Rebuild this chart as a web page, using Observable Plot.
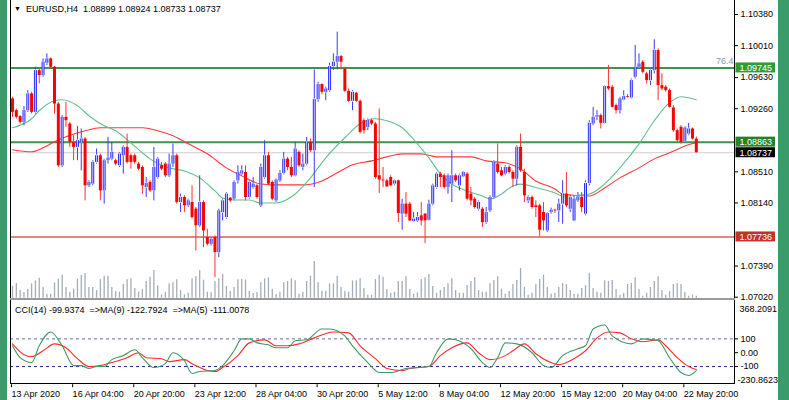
<!DOCTYPE html>
<html><head><meta charset="utf-8">
<script src="https://cdn.jsdelivr.net/npm/d3@7"></script>
<script src="https://cdn.jsdelivr.net/npm/@observablehq/plot@0.6"></script>
<style>
body{margin:0;background:#fff;}
#chart{position:relative;width:789px;height:400px;overflow:hidden;background:#fff;font-family:"Liberation Sans",Arial,sans-serif;}
#chart svg{position:absolute;left:0;overflow:visible;}
.strip{position:absolute;top:0;height:400px;background:#3b9b6b;}
.txt{position:absolute;font-size:9px;line-height:10px;white-space:pre;color:#000;}
.ln{position:absolute;background:#000;}
</style></head><body>
<div id="chart"></div>
<script>
// ---------- data ----------
const symbolText = "EURUSD,H4  1.08899 1.08924 1.08733 1.08737";
const cciText = "CCI(14) -99.9374  =>MA(9) -122.7924  =>MA(5) -111.0078";

const open = [
1.09376,1.09237,1.09166,1.09098,1.09237,1.09436,1.09217,1.09713,1.09654,1.09801,
1.09852,1.09753,1.09316,1.08582,1.09158,1.09078,1.08860,1.08800,1.08860,1.08900,
1.08344,1.08364,1.08622,1.08701,1.08284,1.08642,1.08661,1.08642,1.08582,1.08701,
1.08800,1.08701,1.08701,1.08602,1.08562,1.08324,1.08384,1.08284,1.08443,1.08582,
1.08602,1.08463,1.08602,1.08701,1.08145,1.08205,1.08106,1.08145,1.08066,1.07868,
1.08145,1.07729,1.07649,1.07729,1.07550,1.08026,1.07967,1.08197,1.08185,1.08403,
1.08483,1.08503,1.08205,1.08324,1.08344,1.08106,1.08443,1.08701,1.08384,1.08165,
1.08403,1.08491,1.08661,1.08562,1.08463,1.08741,1.08562,1.08602,1.08860,1.08761,
1.09368,1.09547,1.09455,1.09475,1.09761,1.09813,1.09880,1.09733,1.09467,1.09348,
1.09444,1.09348,1.09118,1.09039,1.09118,1.09078,1.08463,1.08412,1.08403,1.08443,
1.08364,1.08403,1.08007,1.08126,1.08126,1.07919,1.07927,1.07987,1.08007,1.07935,
1.08126,1.08324,1.08483,1.08463,1.08324,1.08364,1.08463,1.08344,1.08451,1.08483,
1.08245,1.08185,1.08066,1.08066,1.07907,1.08046,1.08205,1.08602,1.08522,1.08483,
1.08562,1.08503,1.08423,1.08800,1.08503,1.08165,1.08205,1.08106,1.08106,1.08026,
1.07808,1.08026,1.08054,1.08046,1.08126,1.08245,1.08066,1.07927,1.08165,1.08205,
1.08007,1.08372,1.09078,1.09158,1.09178,1.09086,1.09523,1.09515,1.09297,1.09237,
1.09364,1.09404,1.09388,1.09634,1.09753,1.09813,1.09674,1.09594,1.09713,1.09952,
1.09535,1.09515,1.09475,1.09269,1.08999,1.09039,1.08872,1.08959,1.09019,1.08899];
const high = [
1.09396,1.09257,1.09178,1.09285,1.09475,1.09455,1.09753,1.09733,1.09852,1.09912,
1.09864,1.09761,1.09336,1.09178,1.09336,1.09098,1.08939,1.09047,1.09019,1.08919,
1.08403,1.08642,1.08781,1.08721,1.08661,1.08919,1.08860,1.08661,1.08741,1.08820,
1.08959,1.08721,1.08721,1.08622,1.08582,1.08443,1.08403,1.08800,1.08681,1.08622,
1.08622,1.08721,1.08840,1.08721,1.08245,1.08225,1.08185,1.08344,1.08086,1.08463,
1.08165,1.07828,1.07729,1.07748,1.08066,1.08185,1.08264,1.08205,1.08403,1.08582,
1.08582,1.08582,1.08403,1.08443,1.08364,1.08602,1.08880,1.08741,1.08403,1.08423,
1.08522,1.08741,1.08681,1.08681,1.08860,1.08761,1.08721,1.08919,1.08900,1.09721,
1.09574,1.09555,1.09515,1.09801,1.09912,1.10170,1.09892,1.09753,1.09495,1.09475,
1.09455,1.09364,1.09138,1.09138,1.09138,1.09098,1.09257,1.08562,1.08423,1.08463,
1.08412,1.08412,1.08185,1.08264,1.08145,1.08026,1.08026,1.08145,1.08014,1.08173,
1.08364,1.08503,1.08503,1.08483,1.08483,1.08761,1.08483,1.08483,1.08515,1.08503,
1.08324,1.08205,1.08165,1.08086,1.08086,1.08225,1.08642,1.08840,1.08562,1.08582,
1.08582,1.08522,1.08820,1.08959,1.08542,1.08225,1.08225,1.08165,1.08126,1.08145,
1.08026,1.08078,1.08066,1.08185,1.08403,1.08503,1.08225,1.08225,1.08264,1.08264,
1.08403,1.09118,1.09277,1.09237,1.09197,1.09535,1.09773,1.09535,1.09316,1.09396,
1.09475,1.09428,1.09614,1.10011,1.09912,1.09833,1.09694,1.09733,1.10079,1.09972,
1.09674,1.09535,1.09495,1.09297,1.09019,1.09058,1.09047,1.09086,1.09031,1.08924];
const low = [
1.09158,1.09138,1.09078,1.09058,1.09217,1.09197,1.09197,1.09555,1.09634,1.09773,
1.09733,1.09197,1.08562,1.08562,1.09039,1.08800,1.08642,1.08642,1.08522,1.08165,
1.08324,1.08344,1.08602,1.08165,1.08126,1.08602,1.08642,1.08582,1.08562,1.08483,
1.08602,1.08542,1.08602,1.08522,1.08245,1.08205,1.08264,1.08165,1.08423,1.08522,
1.08443,1.08443,1.08562,1.08126,1.08026,1.08026,1.08086,1.07947,1.07570,1.07848,
1.07609,1.07629,1.07629,1.07252,1.07490,1.07927,1.07947,1.08145,1.08165,1.08364,
1.08463,1.08165,1.08185,1.08304,1.08185,1.08086,1.08423,1.08344,1.08165,1.08145,
1.08384,1.08475,1.08522,1.08443,1.08451,1.08562,1.08522,1.08582,1.08741,1.08324,
1.09336,1.09428,1.09356,1.09455,1.09713,1.09721,1.09721,1.09455,1.09336,1.09237,
1.09336,1.08959,1.08959,1.08999,1.09058,1.08423,1.08253,1.08324,1.08324,1.08332,
1.08344,1.07907,1.07816,1.07967,1.07919,1.07907,1.07907,1.07868,1.07657,1.07927,
1.08106,1.08304,1.08324,1.08304,1.08245,1.08145,1.08384,1.08284,1.08443,1.08165,
1.08106,1.08066,1.08046,1.07848,1.07887,1.08026,1.08185,1.08483,1.08451,1.08463,
1.08483,1.08324,1.08344,1.08503,1.08145,1.08133,1.08066,1.07967,1.07736,1.07808,
1.07788,1.08007,1.08014,1.07907,1.07887,1.08086,1.08026,1.07919,1.08145,1.08026,
1.07987,1.08344,1.09058,1.09118,1.09019,1.09078,1.09475,1.09269,1.09197,1.09197,
1.09356,1.09388,1.09376,1.09614,1.09733,1.09674,1.09555,1.09535,1.09674,1.09356,
1.09475,1.09455,1.09269,1.08979,1.08860,1.08840,1.08860,1.08939,1.08888,1.08733];
const close = [
1.09217,1.09158,1.09098,1.09237,1.09436,1.09217,1.09713,1.09654,1.09813,1.09852,
1.09753,1.09316,1.08582,1.09158,1.09118,1.08860,1.08800,1.08880,1.08900,1.08344,
1.08384,1.08622,1.08701,1.08284,1.08642,1.08673,1.08741,1.08602,1.08721,1.08800,
1.08622,1.08622,1.08622,1.08542,1.08344,1.08372,1.08284,1.08562,1.08661,1.08542,
1.08463,1.08602,1.08701,1.08145,1.08205,1.08106,1.08165,1.07967,1.07868,1.08145,
1.07808,1.07649,1.07709,1.07550,1.08046,1.08165,1.08245,1.08165,1.08384,1.08503,
1.08522,1.08205,1.08384,1.08364,1.08205,1.08562,1.08701,1.08364,1.08185,1.08412,
1.08491,1.08661,1.08562,1.08463,1.08781,1.08582,1.08602,1.08860,1.08761,1.09368,
1.09547,1.09455,1.09495,1.09761,1.09813,1.09880,1.09813,1.09467,1.09348,1.09455,
1.09348,1.08979,1.08999,1.09118,1.09078,1.08443,1.08412,1.08403,1.08332,1.08344,
1.08403,1.08014,1.08126,1.08007,1.07927,1.07947,1.07967,1.07927,1.07927,1.08126,
1.08344,1.08483,1.08443,1.08324,1.08463,1.08463,1.08403,1.08463,1.08503,1.08185,
1.08165,1.08086,1.08145,1.07907,1.08026,1.08205,1.08622,1.08503,1.08463,1.08562,
1.08503,1.08423,1.08800,1.08522,1.08225,1.08205,1.08086,1.08086,1.07816,1.07927,
1.08014,1.08054,1.08046,1.08126,1.08245,1.08106,1.08205,1.08185,1.08213,1.08086,
1.08372,1.09086,1.09158,1.09178,1.09086,1.09523,1.09495,1.09277,1.09237,1.09376,
1.09404,1.09396,1.09594,1.09753,1.09793,1.09694,1.09594,1.09713,1.09952,1.09535,
1.09495,1.09475,1.09277,1.08999,1.08880,1.08860,1.09031,1.09019,1.08900,1.08737];
const volume = [
10800,13200,6900,5100,7800,12900,15600,18000,9600,3600,
3600,13800,17100,20700,9600,5400,8100,17100,20400,22200,
9600,9600,6900,16800,19800,19800,9600,6000,5400,12300,
16500,17400,8700,5400,7800,15000,18900,24900,11100,3000,
5400,12900,13800,16500,6900,3000,4500,17400,19200,24900,
16200,5400,4800,15000,17400,21300,10500,6000,9600,16500,
17100,16500,6000,4200,5100,13800,17400,18300,8100,3300,
5400,13800,15000,17400,15600,3600,5400,15000,19800,33000,
13800,6300,6300,12900,12900,19800,9600,6000,5400,15600,
15600,17400,8700,2700,2700,16800,20700,18900,7800,4500,
5400,15000,15000,19200,7800,3600,4800,16800,18300,21300,
10500,4500,6900,9600,12900,17400,6900,4500,4500,11400,
15000,18300,6900,5400,5400,12900,15900,19200,8100,3600,
6000,12300,15900,26700,9600,2700,4500,12300,16800,20700,
9600,3600,4500,9600,13200,12300,6900,3600,3600,8700,
11400,22500,8700,5400,4500,15600,15000,15900,7800,2700,
4500,12300,13200,18300,7800,1800,4500,9600,15000,19200,
6900,2700,6000,12300,13200,12300,5400,1800,2700,1800];

// moving averages on price (bar index, value)
const maFastIdx = [0,5,7,11,13,17,20,24,27,31,34,36,41,45,49,53,55,58,62,65,69,74,78,82,87,91,95,98,102,106,109,112,115,119,123,125,128,131,133,137,142,144,151,155,159,164,168,172,175,179];
const maFastVal = [1.09034,1.09141,1.09236,1.09355,1.09367,1.09296,1.09177,1.09057,1.08998,1.08855,1.08736,1.08664,1.08557,1.08521,1.08438,1.08283,1.08200,1.08176,1.08176,1.08140,1.08140,1.08247,1.08438,1.08676,1.08915,1.09081,1.09141,1.09117,1.09034,1.08843,1.08676,1.08486,1.08366,1.08283,1.08223,1.08188,1.08247,1.08343,1.08364,1.08324,1.08259,1.08223,1.08247,1.08366,1.08557,1.08843,1.09117,1.09332,1.09403,1.09367];
const maSlowIdx = [0,5,8,11,14,19,23,27,34,38,42,46,51,56,60,65,70,76,81,85,89,94,98,102,107,111,115,120,124,129,133,137,142,144,151,155,159,164,168,172,177,179];
const maSlowVal = [1.08772,1.08748,1.08795,1.08867,1.08926,1.08998,1.09034,1.09034,1.09034,1.08998,1.08938,1.08843,1.08724,1.08557,1.08462,1.08366,1.08355,1.08355,1.08402,1.08498,1.08593,1.08640,1.08688,1.08724,1.08724,1.08688,1.08688,1.08688,1.08640,1.08617,1.08545,1.08402,1.08307,1.08247,1.08223,1.08319,1.08438,1.08557,1.08664,1.08736,1.08831,1.08855];

// CCI panel lines (bar index, value)
const cciGreenIdx = [0,2,5,7,10,13,16,18,20,22,24,26,29,32,34,37,40,42,45,47,49,53,55,58,60,62,64,67,69,72,74,77,81,83,87,89,93,96,99,103,109,111,114,116,120,123,125,127,129,132,136,139,141,144,148,150,152,155,157,162,165,169,172,175,177,179];
const cciGreenVal = [50,-36,-71,50,150,50,-93,-93,-114,-100,-100,-50,-21,21,-36,-107,-79,0,-57,-150,-136,-129,-93,14,100,100,71,57,36,36,86,93,171,171,121,50,-71,-143,-143,-114,-100,0,100,93,29,-71,-107,-36,71,64,0,-93,-107,-21,29,50,171,200,121,64,100,86,-36,-143,-164,-129];
const cciRedIdx = [0,3,5,8,11,14,17,20,23,26,30,33,35,39,41,45,47,51,53,55,59,62,66,69,72,75,79,84,88,91,95,98,102,104,109,112,115,119,122,125,129,131,134,137,141,143,147,150,153,156,159,162,165,169,171,174,177,179];
const cciRedVal = [64,-14,-29,14,64,36,-43,-100,-93,-71,-36,0,-36,-43,-64,-50,-79,-129,-136,-107,-21,71,93,50,50,64,107,150,143,50,-43,-114,-129,-114,-100,-21,36,71,0,-50,-21,14,64,-7,-71,-86,-43,14,107,150,143,100,79,93,50,-36,-100,-121];

// levels and axes
const priceTicks = [1.10380,1.10010,1.09630,1.09260,1.08510,1.08140,1.07390,1.07020];
const priceRange = [1.07020, 1.10380];
const levels = [
  {p:1.09745, label:"1.09745", line:"#3f9252", box:"#2f9c36", w:2},
  {p:1.08863, label:"1.08863", line:"#3f9252", box:"#26812a", w:2},
  {p:1.08737, label:"1.08737", line:"#cfcfcf", box:"#000000", w:1},
  {p:1.07736, label:"1.07736", line:"#dd5a5a", box:"#c9302c", w:1.5}
];
const fiboLabel = {p:1.09745, text:"76.4"};
const cciRange = [-230.8623, 368.2091];
const cciLevels = [100, -100];
const cciTicks = [100, 0, -100];
const cciTickLabels = ["100", "0.00", "-100"];
const dateIdx = [0,16,32,48,64,80,96,112,128,144,160,176];
const dateLabels = ["13 Apr 2020","16 Apr 04:00","20 Apr 20:00","23 Apr 12:00","28 Apr 04:00","30 Apr 20:00","5 May 12:00","8 May 04:00","12 May 20:00","15 May 12:00","20 May 04:00","22 May 20:00"];

// ---------- build ----------
const FONT = '"Liberation Sans", Arial, sans-serif';
const xDomain = [-0.524, 189];
const xEdge = 189;
const candles = open.map((o,i)=>({i, o, h:high[i], l:low[i], c:close[i], up: close[i] >= o}));
const ups = candles.filter(d=>d.up), downs = candles.filter(d=>!d.up);
const zip = (a,b)=>a.map((x,k)=>({i:x, v:b[k]}));
const vols = volume.map((v,i)=>({i, v}));
const common = {width: 789, marginLeft: 10, marginRight: 55,
  style: {background:"transparent", fontFamily: FONT, fontSize:"9px", color:"#000", overflow:"visible"}};

const chart = document.getElementById("chart");
function addDiv(cls, css, text){const d=document.createElement("div"); d.className=cls; Object.assign(d.style, css); if(text!==undefined) d.textContent=text; chart.appendChild(d); return d;}

addDiv("strip", {left:"0px", width:"7px"});
addDiv("strip", {left:"778px", width:"11px"});

// volume layer
const volPlot = Plot.plot({...common, height:300, marginTop:0, marginBottom:2.3,
  x:{domain:xDomain, axis:null, label:null}, y:{domain:[0,267930], axis:null, label:null},
  marks:[Plot.ruleX(vols, {x:"i", y:"v", stroke:"#a3adb7", strokeWidth:1.3})]});
volPlot.style.top = "0px"; chart.appendChild(volPlot);

// main price panel
const mainPlot = Plot.plot({...common, height:300, marginTop:14, marginBottom:3.3,
  x:{domain:xDomain, axis:null, label:null}, y:{domain:priceRange, label:null},
  color:{type:"identity"},
  marks:[
    Plot.ruleY(levels, {y:"p", stroke:"line", strokeWidth:"w"}),
    Plot.line(zip(maSlowIdx, maSlowVal), {x:"i", y:"v", stroke:"#ff3a3a", strokeWidth:1.1, curve:"monotone-x"}),
    Plot.line(zip(maFastIdx, maFastVal), {x:"i", y:"v", stroke:"#62c08a", strokeWidth:1.1, curve:"monotone-x"}),
    Plot.ruleX(downs, {x:"i", y1:"l", y2:"h", stroke:"#ff3030", strokeWidth:1}),
    Plot.ruleX(downs, {x:"i", y1:"o", y2:"c", stroke:"#ff0000", strokeWidth:3}),
    Plot.ruleX(ups, {x:"i", y1:"l", y2:"h", stroke:"#3a3aff", strokeWidth:1}),
    Plot.ruleX(ups, {x:"i", y1:"o", y2:"c", stroke:"#2f2fff", strokeWidth:3}),
    Plot.ruleX(ups, {x:"i", y1:"o", y2:"c", stroke:"#c8c8ff", strokeWidth:1, insetTop:1, insetBottom:1}),
    Plot.axisY(priceTicks, {anchor:"right", label:null, tickSize:3, tickPadding:3, tickFormat:d=>d.toFixed(5), fontSize:9, color:"#000"}),
    Plot.rect(levels, {x1:()=>xEdge, x2:()=>xEdge, y1:"p", y2:"p", insetLeft:1.5, insetRight:-41, insetTop:-5, insetBottom:-5, fill:"box"}),
    Plot.text(levels, {x:()=>xEdge, y:"p", text:"label", dx:5, textAnchor:"start", fill:"#fff", fontSize:9}),
    Plot.text([fiboLabel], {x:()=>xEdge, y:"p", text:"text", dx:-1, dy:-7, textAnchor:"end", fill:"#8797a7", fontSize:9})
  ]});
mainPlot.style.top = "0px"; chart.appendChild(mainPlot);

// CCI panel
const cciPlot = Plot.plot({...common, height:100, marginTop:1.2, marginBottom:15.8,
  x:{domain:xDomain, label:null}, y:{domain:cciRange, label:null},
  marks:[
    Plot.ruleY([cciLevels[0]], {stroke:"#6a6ab8", strokeDasharray:"3,3"}),
    Plot.ruleY([cciLevels[1]], {stroke:"#1f1f8a", strokeDasharray:"3,3"}),
    Plot.line(zip(cciRedIdx, cciRedVal), {x:"i", y:"v", stroke:"#ff2a2a", strokeWidth:1.1, curve:"monotone-x"}),
    Plot.line(zip(cciGreenIdx, cciGreenVal), {x:"i", y:"v", stroke:"#3f9a63", strokeWidth:1.1, curve:"monotone-x"}),
    Plot.axisY(cciTicks, {anchor:"right", label:null, tickSize:3, tickPadding:3, tickFormat:d=>cciTickLabels[cciTicks.indexOf(d)], fontSize:9, color:"#000"}),
    Plot.text([cciRange[1]], {y:d=>d, x:()=>xEdge, text:d=>d.toFixed(4), dx:5, dy:7, textAnchor:"start", fill:"#000", fontSize:9}),
    Plot.text([cciRange[0]], {y:d=>d, x:()=>xEdge, text:d=>d.toFixed(4), dx:3, dy:-5, textAnchor:"start", fill:"#000", fontSize:9}),
    Plot.axisX(dateIdx, {label:null, tickSize:3, tickPadding:3, textAnchor:"start", dx:-1, tickFormat:d=>dateLabels[dateIdx.indexOf(d)], fontSize:9, color:"#000"})
  ]});
cciPlot.style.top = "300px"; chart.appendChild(cciPlot);

// frame
addDiv("ln", {left:"10px", top:"0px", width:"1px", height:"384px"});
addDiv("ln", {left:"734px", top:"0px", width:"1px", height:"384px"});
addDiv("ln", {left:"10px", top:"383px", width:"725px", height:"1px"});
addDiv("ln", {left:"10px", top:"298px", width:"725px", height:"2px", background:"#9a9a9a"});

// texts
addDiv("txt", {left:"14px", top:"4px", fontSize:"7px"}, "\u25BC");
addDiv("txt", {left:"26px", top:"4px"}, symbolText);
addDiv("txt", {left:"15px", top:"305px"}, cciText);
</script>
</body></html>
